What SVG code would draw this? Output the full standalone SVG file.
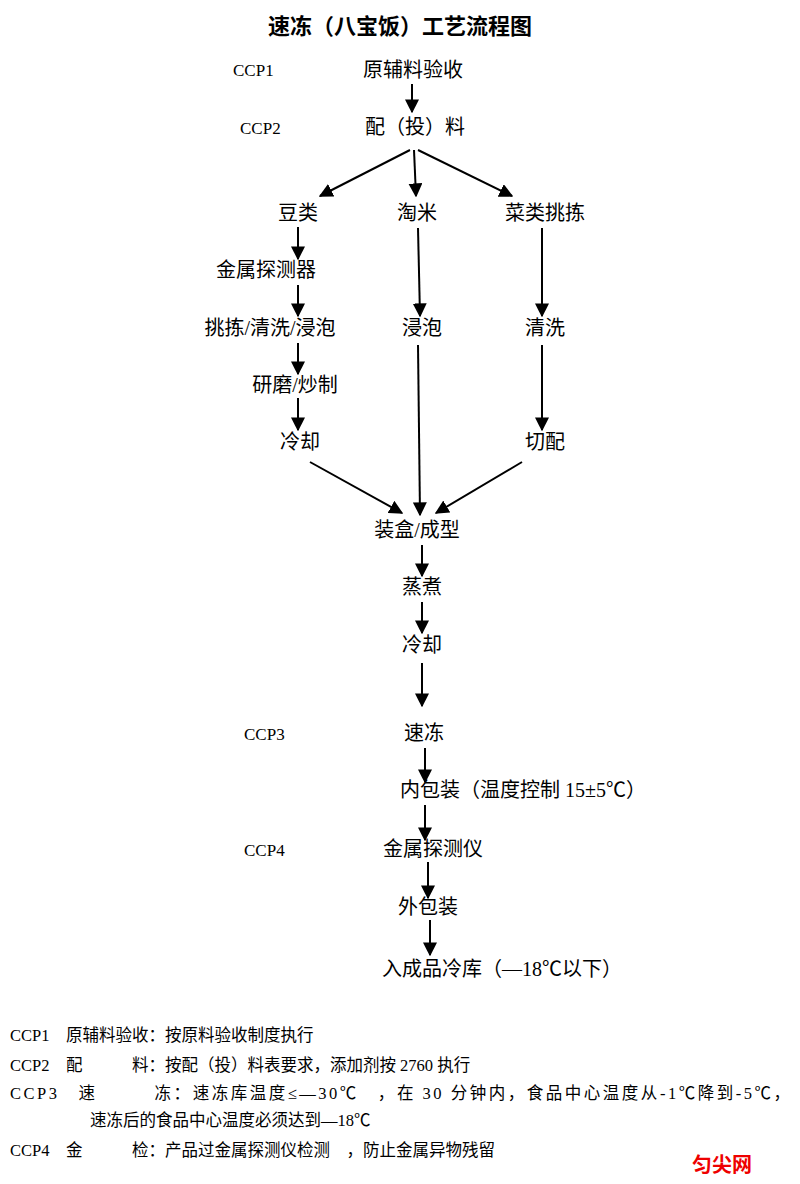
<svg xmlns="http://www.w3.org/2000/svg" width="800" height="1184" viewBox="0 0 800 1184">
<defs>
<marker id="a" viewBox="0 0 10 10" refX="9" refY="5" markerWidth="7" markerHeight="7" orient="auto"><path d="M0,0 L10,5 L0,10 z" fill="#000"/></marker>
<style>
text{font-family:"Liberation Serif","Noto Sans CJK SC",serif;fill:#000}
.n{font-size:20px;text-anchor:middle}
.c{font-size:17px}
.b{font-size:16.5px}
line{stroke:#000;stroke-width:2;marker-end:url(#a)}
</style>
</defs>
<rect width="800" height="1184" fill="#fff"/>
<text x="400" y="34" class="n" style="font-size:22px;font-weight:bold">速冻（八宝饭）工艺流程图</text>
<text x="233" y="76" class="c">CCP1</text>
<text x="240" y="134" class="c">CCP2</text>
<text x="244" y="740" class="c">CCP3</text>
<text x="244" y="856" class="c">CCP4</text>
<g id="n1"><text x="413" y="77" class="n">原辅料验收</text></g>
<g id="n2"><text x="415" y="134" class="n">配（投）料</text></g>
<g id="n3"><text x="298" y="220" class="n">豆类</text></g>
<g id="n4"><text x="417" y="220" class="n">淘米</text></g>
<g id="n5"><text x="545" y="220" class="n">菜类挑拣</text></g>
<g id="n6"><text x="266" y="277" class="n">金属探测器</text></g>
<g id="n7"><text x="270" y="335" class="n">挑拣/清洗/浸泡</text></g>
<g id="n8"><text x="422" y="335" class="n">浸泡</text></g>
<g id="n9"><text x="545" y="335" class="n">清洗</text></g>
<g id="n10"><text x="295" y="392" class="n">研磨/炒制</text></g>
<g id="n11"><text x="300" y="449" class="n">冷却</text></g>
<g id="n12"><text x="545" y="449" class="n">切配</text></g>
<g id="n13"><text x="417" y="537" class="n">装盒/成型</text></g>
<g id="n14"><text x="422" y="594" class="n">蒸煮</text></g>
<g id="n15"><text x="422" y="652" class="n">冷却</text></g>
<g id="n16"><text x="424" y="740" class="n">速冻</text></g>
<g id="n17"><text x="400" y="797" style="font-size:20px">内包装（温度控制 15±5℃）</text></g>
<g id="n18"><text x="433" y="856" class="n">金属探测仪</text></g>
<g id="n19"><text x="428" y="914" class="n">外包装</text></g>
<g id="n20"><text x="502" y="976" class="n">入成品冷库（—18℃以下）</text></g>
<g id="edges">
<line x1="412" y1="84" x2="412" y2="112"/>
<line x1="410" y1="150" x2="320" y2="196"/>
<line x1="414" y1="150" x2="416" y2="196"/>
<line x1="418" y1="150" x2="512" y2="196"/>
<line x1="298" y1="227" x2="298" y2="259"/>
<line x1="298" y1="285" x2="298" y2="316"/>
<line x1="298" y1="343" x2="298" y2="374"/>
<line x1="298" y1="398" x2="298" y2="430"/>
<line x1="418" y1="228" x2="420" y2="316"/>
<line x1="418" y1="345" x2="420" y2="515"/>
<line x1="542" y1="228" x2="542" y2="316"/>
<line x1="542" y1="345" x2="542" y2="430"/>
<line x1="310" y1="462" x2="402" y2="513"/>
<line x1="522" y1="462" x2="436" y2="513"/>
<line x1="422" y1="545" x2="422" y2="576"/>
<line x1="422" y1="602" x2="422" y2="633"/>
<line x1="422" y1="663" x2="422" y2="706"/>
<line x1="425" y1="748" x2="425" y2="782"/>
<line x1="425" y1="805" x2="425" y2="840"/>
<line x1="428" y1="862" x2="428" y2="898"/>
<line x1="430" y1="920" x2="430" y2="955"/>
</g>
<text x="10" y="1041" class="b">CCP1　原辅料验收：按原料验收制度执行</text>
<text x="10" y="1071" class="b">CCP2　配　　　料：按配（投）料表要求，添加剂按 2760 执行</text>
<text x="10" y="1099" class="b" textLength="780">CCP3　速　　　冻：速冻库温度≤—30℃　，在 30 分钟内，食品中心温度从-1℃降到-5℃，</text>
<text x="90" y="1126" class="b">速冻后的食品中心温度必须达到—18℃</text>
<text x="10" y="1156" class="b">CCP4　金　　　检：产品过金属探测仪检测　，防止金属异物残留</text>
<text x="722" y="1172" style="font-size:20px;fill:#e00;font-weight:bold;text-anchor:middle">匀尖网</text>
</svg>
